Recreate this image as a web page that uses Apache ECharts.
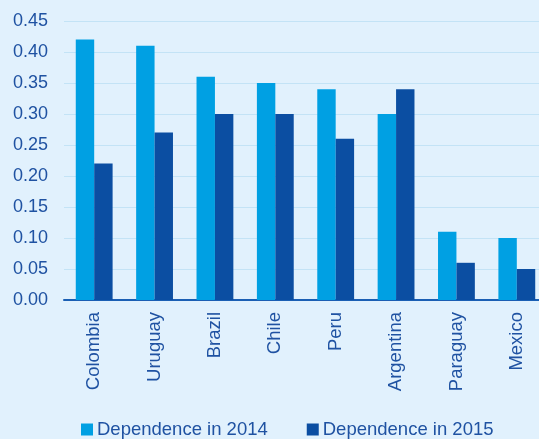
<!DOCTYPE html>
<html><head><meta charset="utf-8">
<script src="https://cdn.jsdelivr.net/npm/echarts@6/dist/echarts.min.js"></script>
<style>html,body{margin:0;padding:0;background:#e1f1fd;overflow:hidden;width:539px;height:439px}#c{width:547px;height:439px}</style>
</head><body><div id="c"></div>
<script>
var categories = ["Colombia","Uruguay","Brazil","Chile","Peru","Argentina","Paraguay","Mexico"];
var dep2014 = [0.42,0.41,0.36,0.35,0.34,0.30,0.11,0.10];
var dep2015 = [0.22,0.27,0.30,0.30,0.26,0.34,0.06,0.05];
var yTicks = {min:0,max:0.45,interval:0.05};
var txt = '#1f52a2';
var chart = echarts.init(document.getElementById('c'));
chart.setOption({
  backgroundColor:'#e1f1fd',
  animation:false,
  grid:{left:64,right:0,top:21,bottom:139,containLabel:false},
  legend:{bottom:0,left:81,padding:0,itemWidth:12,itemHeight:12,itemGap:39,icon:'rect',
    textStyle:{color:txt,fontSize:18.5,fontFamily:'Liberation Sans, Arial',padding:[0,0,0,-1]},
    data:['Dependence in 2014','Dependence in 2015']},
  xAxis:{type:'category',data:categories,
    axisLine:{lineStyle:{color:'#1a5fb4',width:2}},
    axisTick:{lineStyle:{color:'#1a5fb4',width:2},length:5},
    axisLabel:{rotate:90,color:txt,fontSize:18.5,fontFamily:'Liberation Sans, Arial',margin:12}},
  yAxis:{type:'value',min:yTicks.min,max:yTicks.max,interval:yTicks.interval,
    axisLine:{show:false},axisTick:{show:false},
    splitLine:{lineStyle:{color:'#c3e3f6',width:1}},
    axisLabel:{color:txt,fontSize:18,fontFamily:'Liberation Sans, Arial',margin:16,
      formatter:function(v){return v.toFixed(2);}}},
  series:[
    {name:'Dependence in 2014',type:'bar',data:dep2014,itemStyle:{color:'#00a0e3'},barGap:'0%',barCategoryGap:'39%'},
    {name:'Dependence in 2015',type:'bar',data:dep2015,itemStyle:{color:'#0b4ea2'}}
  ]
});
</script></body></html>
